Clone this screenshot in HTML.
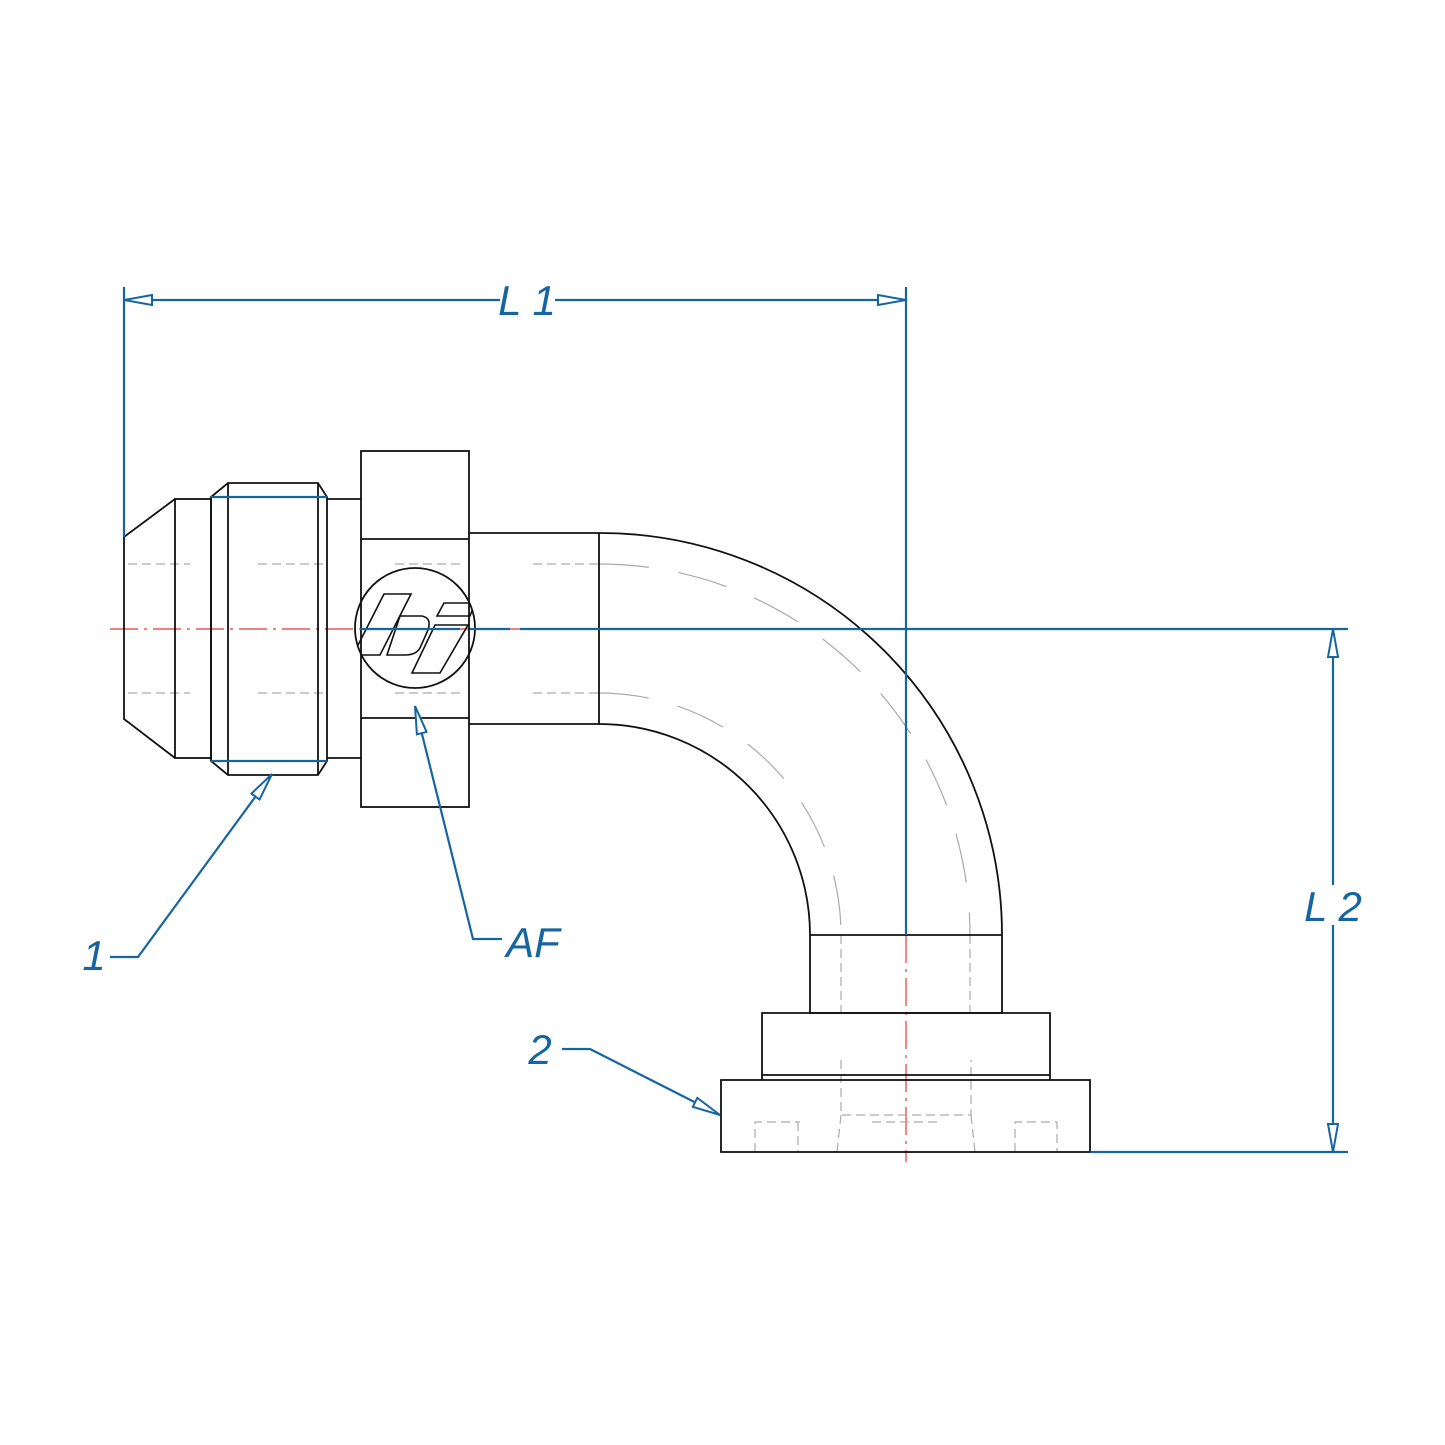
<!DOCTYPE html>
<html><head><style>body{margin:0;background:#fff}svg{display:block}</style></head><body>
<svg width="1445" height="1445" viewBox="0 0 1445 1445" xmlns="http://www.w3.org/2000/svg">
<defs>
<marker id="a" markerWidth="30" markerHeight="12" refX="29" refY="6" orient="auto" markerUnits="userSpaceOnUse">
<path d="M1,1 L29,6 L1,11 Z" fill="#fff" stroke="#1565a0" stroke-width="2"/></marker>
</defs>
<g stroke="#e33" stroke-width="1.2" stroke-dasharray="28,6,3,6" fill="none">
<line x1="110" y1="629" x2="605" y2="629"/>
<line x1="906" y1="935" x2="906" y2="1162"/>
</g>
<g stroke="#aaa" stroke-width="1.2" stroke-dasharray="9,5" fill="none">
<line x1="128" y1="564" x2="190" y2="564"/><line x1="128" y1="693" x2="190" y2="693"/>
<line x1="258" y1="564" x2="327" y2="564"/><line x1="258" y1="693" x2="327" y2="693"/>
<line x1="395" y1="564" x2="465" y2="564"/><line x1="395" y1="693" x2="465" y2="693"/>
<line x1="533" y1="564" x2="599" y2="564"/><line x1="533" y1="693" x2="599" y2="693"/>
<line x1="970" y1="935" x2="970" y2="1013"/><line x1="841" y1="935" x2="841" y2="1013"/>
<polyline points="841,1060 841,1115 971,1115 971,1060"/>
<line x1="841" y1="1115" x2="837" y2="1152"/><line x1="971" y1="1115" x2="975" y2="1152"/>
<line x1="872" y1="1122" x2="942" y2="1122"/>
<polyline points="755,1152 755,1122 800,1122"/><line x1="798" y1="1122" x2="798" y2="1152"/>
<polyline points="1015,1152 1015,1122 1057,1122 1057,1152"/>
</g>
<g stroke="#aaa" stroke-width="1.2" stroke-dasharray="50,30" fill="none">
<path d="M599,564 A371,371 0 0 1 970,935"/>
<path d="M599,693 A242,242 0 0 1 841,935"/>
</g>
<g stroke="#111" stroke-width="1.8" fill="none">
<polyline points="175,499 124,537 124,719 175,758"/>
<rect x="175" y="499" width="36" height="259"/>
<polygon points="211,497 228,483 318,483 327,497 327,761 318,775 228,775 211,761"/>
<line x1="228" y1="483" x2="228" y2="775"/><line x1="318" y1="483" x2="318" y2="775"/>
<line x1="327" y1="499" x2="361" y2="499"/><line x1="327" y1="758" x2="361" y2="758"/>
<rect x="361" y="451" width="108" height="356"/>
<line x1="361" y1="539" x2="469" y2="539"/><line x1="361" y1="718" x2="469" y2="718"/>
<path d="M469,533 L599,533 A402,402 0 0 1 1002,935 L1002,1013 L810,1013 L810,935 A211,211 0 0 0 599,724 L469,724"/>
<line x1="599" y1="533" x2="599" y2="724"/>
<line x1="810" y1="935" x2="1002" y2="935"/>
<path d="M762,1080 L762,1013 L1050,1013 L1050,1080"/>
<line x1="762" y1="1075" x2="1050" y2="1075"/>
<rect x="721" y="1080" width="369" height="72"/>
</g>
<clipPath id="c"><circle cx="415" cy="628" r="60"/></clipPath>
<circle cx="415" cy="628" r="60" fill="none" stroke="#111" stroke-width="1.8"/>
<g clip-path="url(#c)" stroke="#111" stroke-width="1.6" fill="none">
<polygon points="384,594 411,594 380,655 353,655"/>
<path d="M400,616 L422,616 Q432,618 428,630 L420,648 Q416,655 405,655 L387,655 Z"/>
<polygon points="444,603 475,603 470,616 437,616"/>
<polygon points="435,625 468,625 440,673 412,673"/>
</g>
<g stroke="#1565a0" stroke-width="2.2" fill="none">
<line x1="211" y1="497" x2="327" y2="497"/><line x1="211" y1="761" x2="327" y2="761"/>
<line x1="360" y1="629" x2="600" y2="629" stroke-dasharray="100,10,40,10"/>
<line x1="600" y1="629" x2="1348" y2="629"/>
<line x1="1090" y1="1152" x2="1348" y2="1152"/>
<line x1="124" y1="287" x2="124" y2="537"/>
<line x1="906" y1="287" x2="906" y2="935"/>
<line x1="530" y1="300" x2="124" y2="300" marker-end="url(#a)"/>
<line x1="530" y1="300" x2="906" y2="300" marker-end="url(#a)"/>
<line x1="1333" y1="890" x2="1333" y2="629" marker-end="url(#a)"/>
<line x1="1333" y1="890" x2="1333" y2="1152" marker-end="url(#a)"/>
<polyline points="110,957 138,957 272,774" marker-end="url(#a)"/>
<polyline points="502,939 473,939 415,706" marker-end="url(#a)"/>
<polyline points="562,1049 590,1049 720,1115" marker-end="url(#a)"/>
</g>
<g fill="#1565a0" font-family="Liberation Sans, sans-serif" font-style="italic" font-size="42" text-anchor="middle">
<rect x="500" y="280" width="55" height="40" fill="#fff"/>
<text x="527" y="315">L 1</text>
<rect x="1306" y="885" width="54" height="40" fill="#fff"/>
<text x="1333" y="921">L 2</text>
<text x="94" y="970">1</text>
<text x="533" y="957">AF</text>
<text x="540" y="1064">2</text>
</g>
</svg>
</body></html>
